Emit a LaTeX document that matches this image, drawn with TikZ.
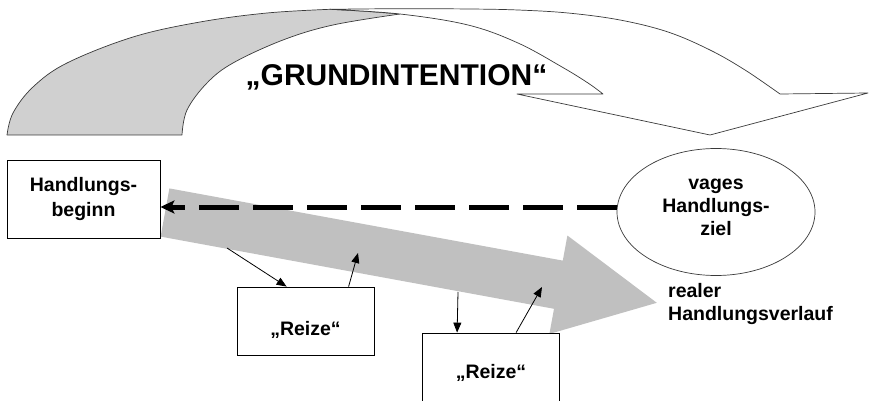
\documentclass[tikz,border=0pt]{standalone}
\usepackage{fontspec}
\setmainfont{Liberation Sans}
\usetikzlibrary{arrows.meta,shapes.geometric}

\definecolor{backgray}{HTML}{D0D0D0}
\definecolor{pathgray}{HTML}{C0C0C0}
\definecolor{edgegray}{HTML}{3A3A3A}

\begin{document}
\begin{tikzpicture}[x=1pt,y=-1pt,
  bandline/.style={draw=edgegray, line width=0.7pt, line join=round},
  title/.style={font=\bfseries\fontsize{30}{36}\selectfont, inner sep=0pt},
  lbl/.style={font=\bfseries\fontsize{19.5}{23}\selectfont, inner sep=0pt},
  textbox/.style={draw=black, line width=0.8pt, fill=white, inner sep=0pt,
    font=\bfseries\fontsize{19.5}{25}\selectfont, align=center},
  stimulus/.style={draw=black, line width=0.8pt, fill=white, inner sep=0pt,
    font=\bfseries\fontsize{19.5}{24}\selectfont,
    minimum width=137pt, text depth=0pt},
  goalshape/.style={ellipse, draw=edgegray, line width=0.7pt, fill=white,
    inner sep=0pt, minimum width=198pt, minimum height=127pt},
  small/.style={draw=black, line width=0.8pt, -{Triangle[length=10pt,width=8pt]}},
  dashedlink/.style={draw=black, line width=5pt, line cap=butt,
    dash pattern=on 40pt off 14pt,
    -{Stealth[length=14pt,width=13pt,inset=3pt]}}
]
\useasboundingbox (0,0) rectangle (870,401);
\clip (0,0) rectangle (870,401);

% curved arrow: shaded back face
\filldraw[bandline, fill=backgray]
  (7,135) -- plot[smooth, tension=0.6] coordinates {(7,135) (13,113) (33,87) (67,63) (133,37) (200,22) (267,13) (330,9.3)}
  -- plot[smooth] coordinates {(330,9.3) (365,11.3) (400,14)}
  -- plot[smooth, tension=0.6] coordinates {(400,14) (333,25) (283,40) (233,63) (207,83) (187,110) (182,135)}
  -- cycle;

% curved arrow: front band with head
\filldraw[bandline, fill=white]
  (330,9.3) -- plot[smooth, tension=0.6] coordinates {(330,9.3) (400,8.7) (470,9) (518,10) (568,13) (620,20) (668,32) (710,50) (745,70) (780,94)}
  -- (868,93) -- (710,135) -- (517,94) -- (603,94)
  -- plot[smooth, tension=0.6] coordinates {(603,94) (588,83) (562,67) (518,43) (468,25) (400,14) (330,9.3)}
  -- cycle;

\node[title, anchor=base] (grund) at (396.5,86) {„GRUNDINTENTION“};

% wide grey arrow of the actual course
\fill[pathgray] (169.4,188.4) -- (562.8,260.6) -- (567.4,235.5) -- (656.8,302.8)
  -- (549.4,333.9) -- (554,308.8) -- (160.6,236.6) -- cycle;

% nodes
\node[textbox, minimum width=153pt, minimum height=78pt] (start) at (83.5,199) {Handlungs-\\beginn};
\node[goalshape] (goal) at (716,212) {};
\node[lbl, align=center] (goaltext) at (716,207) {vages\\Handlungs-\\ziel};
\node[stimulus, minimum height=68pt, text height=28pt] (reizeA) at (305.5,321) {„Reize“};
\node[stimulus, minimum height=76pt, text height=14pt] (reizeB) at (491,371) {„Reize“};
\node[lbl, align=left, anchor=north west] (course) at (668,282.8) {realer\\Handlungsverlauf};

% dashed link from goal back to start
\draw[dashedlink] ([yshift=5pt]goal.west) -- ([yshift=-8pt]start.east);

% stimuli interacting with the course
\coordinate (a1) at (227,248);
\coordinate (a2) at (358,253);
\coordinate (a3) at (458,292);
\coordinate (a4) at (542,287);
\draw[small] (a1) -- ([xshift=50pt]reizeA.north west);
\draw[small] ([xshift=112pt]reizeA.north west) -- (a2);
\draw[small] (a3) -- ([xshift=35pt]reizeB.north west);
\draw[small] ([xshift=94pt]reizeB.north west) -- (a4);
\end{tikzpicture}
\end{document}
